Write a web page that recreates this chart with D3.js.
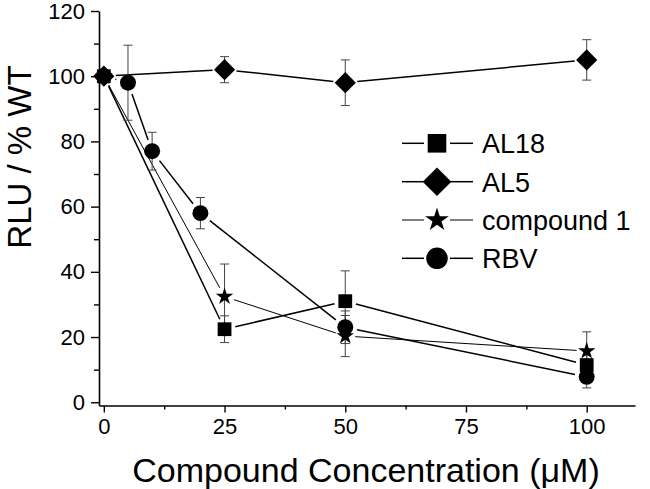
<!DOCTYPE html>
<html><head><meta charset="utf-8">
<script src="https://cdn.jsdelivr.net/npm/d3@7"></script>
<style>
html,body{margin:0;padding:0;background:#fff;}
svg{display:block;font-family:"Liberation Sans",Arial,sans-serif;}
</style></head>
<body>
<svg id="chart" width="650" height="489"></svg>
<script>
// ---- data ----
const xTicks = [0, 25, 50, 75, 100];
const xMinorTicks = [12.5, 37.5, 62.5, 87.5];
const yTicks = [0, 20, 40, 60, 80, 100, 120];
const yMinorTicks = [10, 30, 50, 70, 90, 110];
const seriesNames = ["AL18", "AL5", "compound 1", "RBV"];

const al18X = [0, 25, 50, 100];
const al18Y = [100, 22.4, 31, 11.4];
const al18Err = [1, 4.1, 9.3, 3];

const al5X = [0, 25, 50, 100];
const al5Y = [100, 102, 98, 105];
const al5Err = [1, 4, 7, 6.2];

const cpd1X = [0, 25, 50, 100];
const cpd1Y = [100, 32.4, 20.3, 15.7];
const cpd1Err = [1, 10, 6.3, 5.9];

const rbvX = [0, 5, 10, 20, 50, 100];
const rbvY = [100, 98, 77, 58, 23, 7.8];
const rbvErr = [1, 11.5, 5.8, 4.8, 5, 3.4];

const xLabel = "Compound Concentration (\u03bcM)";
const yLabel = "RLU / % WT";

// ---- setup ----
const svg = d3.select("#chart");
const x = d3.scaleLinear().domain([-1, 110]).range([99, 635]);
const y = d3.scaleLinear().domain([-1, 120]).range([405.5, 11]);

const series = [
  {name: seriesNames[0], xs: al18X, ys: al18Y, es: al18Err, sym: "square", lw: 1.5},
  {name: seriesNames[1], xs: al5X, ys: al5Y, es: al5Err, sym: "diamond", lw: 1.5},
  {name: seriesNames[2], xs: cpd1X, ys: cpd1Y, es: cpd1Err, sym: "star", lw: 1},
  {name: seriesNames[3], xs: rbvX, ys: rbvY, es: rbvErr, sym: "circle", lw: 1.5}
];

function symPath(sym, scale) {
  const s = scale || 1;
  if (sym === "square") return d3.symbol(d3.symbolSquare, 190 * s * s)();
  if (sym === "diamond") return d3.symbol(d3.symbolSquare, 225 * s * s)();
  if (sym === "star") return d3.symbol(d3.symbolStar, 95 * s * s)();
  return d3.symbol(d3.symbolCircle, 200 * s * s)();
}
const gapR = {square: 11, diamond: 12, star: 10, circle: 12};

// ---- axes ----
const axisStyle = g => {
  g.selectAll("path.domain").attr("stroke", "#000").attr("stroke-width", 1.6);
  g.selectAll(".tick line").attr("stroke", "#000").attr("stroke-width", 1.4);
};

const xAxis = svg.append("g").attr("transform", "translate(0,405.5)")
  .call(d3.axisBottom(x).tickValues(xTicks).tickSize(7).tickSizeOuter(0).tickPadding(6));
xAxis.call(axisStyle);
xAxis.selectAll("text").attr("font-size", 22).attr("fill", "#000");
svg.append("g").attr("transform", "translate(0,405.5)")
  .call(d3.axisBottom(x).tickValues(xMinorTicks).tickSize(4).tickFormat(""))
  .call(axisStyle).select("path.domain").remove();

const yAxis = svg.append("g").attr("transform", "translate(99,0)")
  .call(d3.axisLeft(y).tickValues(yTicks).tickSize(8).tickSizeOuter(0).tickPadding(6));
yAxis.call(axisStyle);
yAxis.selectAll("text").attr("font-size", 22).attr("fill", "#000");
svg.append("g").attr("transform", "translate(99,0)")
  .call(d3.axisLeft(y).tickValues(yMinorTicks).tickSize(5).tickFormat(""))
  .call(axisStyle).select("path.domain").remove();

// axis titles
svg.append("text").attr("x", 366).attr("y", 482)
  .attr("text-anchor", "middle").attr("font-size", 34).text(xLabel);
svg.append("text").attr("transform", "translate(31,157) rotate(-90)")
  .attr("text-anchor", "middle").attr("font-size", 33).text(yLabel);

// ---- lines with gaps ----
const plot = svg.append("g");
series.forEach(s => {
  const g = gapR[s.sym];
  for (let i = 0; i < s.xs.length - 1; i++) {
    const x1 = x(s.xs[i]), y1 = y(s.ys[i]), x2 = x(s.xs[i + 1]), y2 = y(s.ys[i + 1]);
    const dx = x2 - x1, dy = y2 - y1, L = Math.hypot(dx, dy);
    if (L <= 2 * g) continue;
    const ux = dx / L, uy = dy / L;
    plot.append("line")
      .attr("x1", x1 + ux * g).attr("y1", y1 + uy * g)
      .attr("x2", x2 - ux * g).attr("y2", y2 - uy * g)
      .attr("stroke", "#000").attr("stroke-width", s.lw);
  }
});

// ---- error bars ----
series.forEach(s => {
  s.xs.forEach((xv, i) => {
    const cx = x(xv), top = y(s.ys[i] + s.es[i]), bot = y(s.ys[i] - s.es[i]);
    const eb = plot.append("g").attr("stroke", "#444").attr("stroke-width", 1);
    eb.append("line").attr("x1", cx).attr("x2", cx).attr("y1", top).attr("y2", bot);
    eb.append("line").attr("x1", cx - 4.5).attr("x2", cx + 4.5).attr("y1", top).attr("y2", top);
    eb.append("line").attr("x1", cx - 4.5).attr("x2", cx + 4.5).attr("y1", bot).attr("y2", bot);
  });
});

// ---- markers ----
series.forEach(s => {
  plot.selectAll(null).data(s.xs.map((xv, i) => [xv, s.ys[i]])).enter()
    .append("path")
    .attr("d", symPath(s.sym))
    .attr("transform", d => `translate(${x(d[0])},${y(d[1])})` + (s.sym === "diamond" ? " rotate(45)" : ""))
    .attr("fill", "#000");
});

// ---- legend ----
const legY = [143.3, 181.7, 220, 258.3];
const leg = svg.append("g");
series.forEach((s, i) => {
  const cy = legY[i];
  leg.append("line").attr("x1", 402).attr("x2", 424).attr("y1", cy).attr("y2", cy)
    .attr("stroke", "#000").attr("stroke-width", s.lw);
  leg.append("line").attr("x1", 450).attr("x2", 473).attr("y1", cy).attr("y2", cy)
    .attr("stroke", "#000").attr("stroke-width", s.lw);
  leg.append("path").attr("d", symPath(s.sym, 1.35))
    .attr("transform", `translate(437,${cy})` + (s.sym === "diamond" ? " rotate(45)" : ""))
    .attr("fill", "#000");
  leg.append("text").attr("x", 482).attr("y", cy + 10).attr("font-size", 27).text(s.name);
});
</script>
</body></html>
